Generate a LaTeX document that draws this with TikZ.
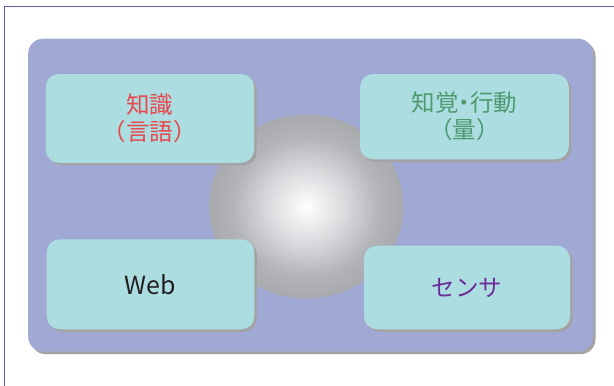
\documentclass[tikz,border=0pt]{standalone}
\usepackage{fontspec}
\newfontfamily\jp{Noto Sans CJK JP}
\usetikzlibrary{shapes.geometric,shadows}
\definecolor{framec}{HTML}{6A5B9C}
\definecolor{panelc}{HTML}{A0A8D4}
\definecolor{boxc}{HTML}{ACDDE1}
\definecolor{shadc}{HTML}{A3A3A6}
\definecolor{redt}{HTML}{E8474D}
\definecolor{greent}{HTML}{4E9A6E}
\definecolor{purplet}{HTML}{6B2D96}
\definecolor{darkt}{HTML}{231F20}
\pgfdeclareradialshading{sph}{\pgfpoint{0bp}{0bp}}{rgb(0bp)=(1,1,1); rgb(2bp)=(0.97,0.97,0.975); rgb(10bp)=(0.85,0.855,0.865); rgb(19bp)=(0.7,0.705,0.72); rgb(25bp)=(0.66,0.665,0.68); rgb(50bp)=(0.66,0.665,0.68)}
\tikzset{
  shadowed/.style={drop shadow={shadow xshift=2.5pt, shadow yshift=-2.5pt, fill=shadc, opacity=1}},
  panelbox/.style={fill=panelc, rounded corners=15pt, shadowed, inner sep=0pt},
  itembox/.style={fill=boxc, rounded corners=13pt, shadowed, inner sep=0pt, align=center,
    font=\jp\fontsize{23.5pt}{27pt}\selectfont},
}
\begin{document}
\begin{tikzpicture}[x=1pt,y=-1pt]
\useasboundingbox (0,0) rectangle (614,386);
\fill[white] (0,0) rectangle (614,386);
\coordinate (ftr) at (614,6.3);
\coordinate (ftl) at (4.3,6.3);
\coordinate (fbl) at (4.3,386);
\draw[framec, line width=1.6pt] (ftr) -- (ftl) -- (fbl);
\node[panelbox, minimum width=564.8pt, minimum height=313pt] (panel) at (310.6,195.2) {};
\node[ellipse, minimum width=194pt, minimum height=184pt, inner sep=0pt, shading=sph] (sphere) at (306.3,206.5) {};
\node[itembox, minimum width=208.3pt, minimum height=88.7pt, text=redt] (know) at (149.9,118.4) {知識\\（言語）};
\node[itembox, minimum width=208.7pt, minimum height=85.3pt, text=greent] (perc) at (464.4,116.7) {知覚{\kern-0.25em}・{\kern-0.25em}行動\\（量）};
\node[itembox, minimum width=207.6pt, minimum height=90pt, text=darkt, font=\jp\fontsize{25pt}{30pt}\selectfont] (web) at (150.5,284.3) {Web};
\node[itembox, minimum width=206pt, minimum height=83.6pt, text=purplet] (sensor) at (467,287.5) {センサ};
\end{tikzpicture}
\end{document}
